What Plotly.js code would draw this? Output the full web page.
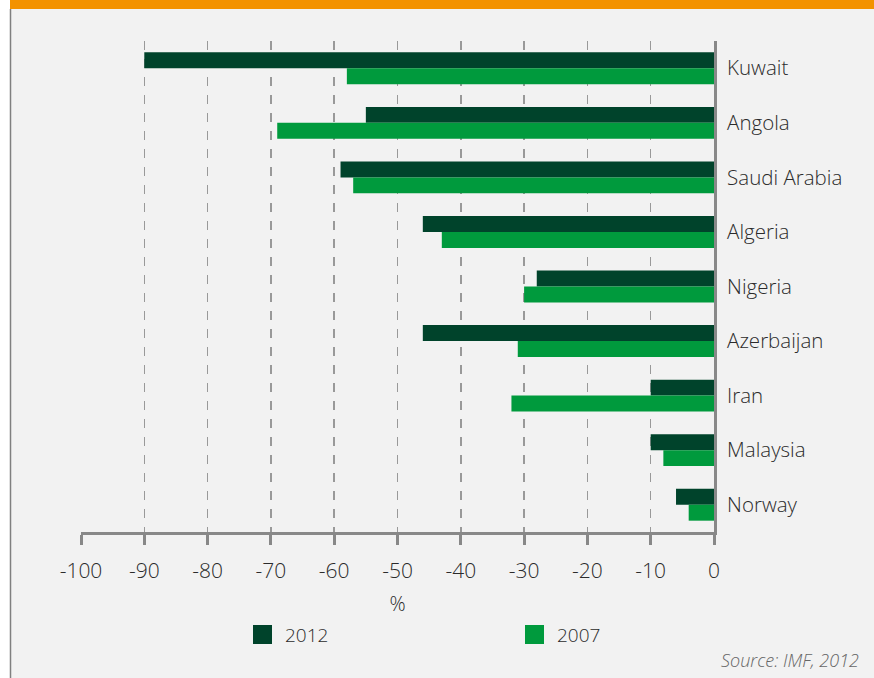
<!DOCTYPE html>
<html>
<head>
<meta charset="utf-8">
<script src="https://cdn.plot.ly/plotly-3.0.1.min.js"></script>
<style>html,body{margin:0;padding:0;background:#fff;} #chart{width:874px;height:678px;}</style>
</head>
<body>
<div id="chart"></div>
<script>
const countries = ["Kuwait","Angola","Saudi Arabia","Algeria","Nigeria","Azerbaijan","Iran","Malaysia","Norway"];
const seriesNames = ["2012","2007"];
const values2012 = [-90,-55,-59,-46,-28,-46,-10,-10,-6];
const values2007 = [-58,-69,-57,-43,-30,-31,-32,-8,-4];
const xTicks = [-100,-90,-80,-70,-60,-50,-40,-30,-20,-10,0];
const colors = ["#00432b","#009a3d"];
const sourceText = "Source: IMF, 2012";

const W = 874, H = 678;
const M = {l:81, r:160, t:41, b:146};
const pw = W - M.l - M.r, ph = H - M.t - M.b;
const px = x => (x - M.l) / pw;
const py = y => 1 - (y - M.t) / ph;

const traces = [values2012, values2007].map((v,i) => ({
  type:'bar', orientation:'h', x:v, y:countries, name:seriesNames[i],
  marker:{color:colors[i], line:{width:0}}, hoverinfo:'x+y'
}));

const fam = '"Open Sans", sans-serif';
const txtColor = '#2b2b2b';

const shapes = [
  {type:'rect', xref:'paper', yref:'paper', x0:px(0), x1:px(10), y0:py(H), y1:py(0), fillcolor:'#ffffff', line:{width:0}, layer:'below'},
  {type:'rect', xref:'paper', yref:'paper', x0:px(10), x1:px(W), y0:py(9), y1:py(0), fillcolor:'#f39200', line:{width:0}},
  {type:'line', xref:'paper', yref:'paper', x0:px(10.5), x1:px(10.5), y0:py(9), y1:py(H), line:{color:'#808080', width:1.5}}
];
const annotations = [
  {xref:'paper', yref:'paper', x:px(861), y:py(660), xanchor:'right', yanchor:'middle', text:'<i>'+sourceText+'</i>', showarrow:false,
   font:{family:fam, size:18, color:'#666', weight:300}}
];
const legendX = [253, 525];
seriesNames.forEach((n,i) => {
  shapes.push({type:'rect', xref:'paper', yref:'paper', x0:px(legendX[i]), x1:px(legendX[i]+19), y0:py(644), y1:py(625), fillcolor:colors[i], line:{width:0}});
  annotations.push({xref:'paper', yref:'paper', x:px(legendX[i]+30), y:py(635), xanchor:'left', yanchor:'middle', text:n, showarrow:false,
    font:{family:fam, size:19, color:txtColor, weight:300}});
});

const layout = {
  width:W, height:H, margin:M,
  paper_bgcolor:'#f2f2f2', plot_bgcolor:'#f2f2f2',
  showlegend:false, barmode:'group', bargap:0.415, bargroupgap:0,
  font:{family:fam, color:txtColor, size:20},
  xaxis:{range:[-100,0], tickvals:xTicks, ticktext:xTicks.map(String),
    showgrid:true, gridcolor:'#999', griddash:'dash', gridwidth:1.5,
    zeroline:false, showline:true, linecolor:'#888', linewidth:3,
    ticks:'outside', ticklen:10, tickwidth:3, tickcolor:'#888',
    ticklabelstandoff:8,
    tickfont:{family:fam, size:21, color:txtColor, weight:300},
    title:{text:'%', font:{family:fam, size:20, color:txtColor, weight:300}, standoff:14},
    fixedrange:true},
  yaxis:{autorange:'reversed', side:'right', showline:true, linecolor:'#888', linewidth:3,
    ticks:'', showgrid:false, zeroline:false, ticklabelstandoff:6,
    tickfont:{family:fam, size:20.5, color:txtColor, weight:300}, fixedrange:true},
  shapes:shapes, annotations:annotations
};
Plotly.newPlot('chart', traces, layout, {displayModeBar:false, staticPlot:true});
</script>
</body>
</html>
